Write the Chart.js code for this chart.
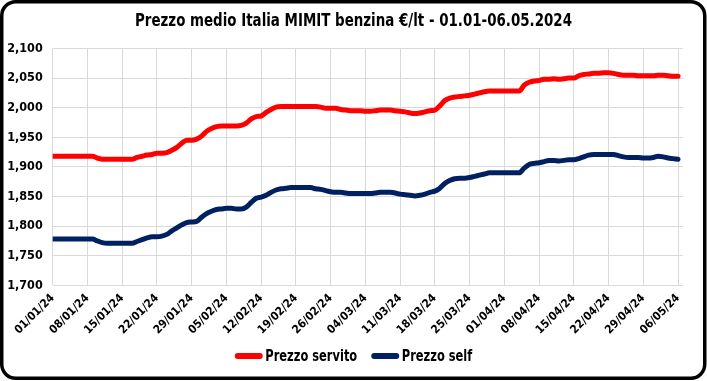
<!DOCTYPE html>
<html>
<head>
<meta charset="utf-8">
<script src="https://cdn.jsdelivr.net/npm/chart.js@4"></script>
<style>
html,body{margin:0;padding:0;background:#fff;}
#wrap{width:707px;height:381px;position:relative;}
</style>
</head>
<body>
<div id="wrap"><canvas id="c" width="707" height="381"></canvas></div>
<script>
const chartTitle = "Prezzo medio Italia MIMIT benzina €/lt - 01.01-06.05.2024";
const seriesNames = ["Prezzo servito", "Prezzo self"];
// weekly tick labels (one every 7 days, from 01/01/24)
const tickLabels = ["01/01/24","08/01/24","15/01/24","22/01/24","29/01/24","05/02/24","12/02/24","19/02/24","26/02/24","04/03/24","11/03/24","18/03/24","25/03/24","01/04/24","08/04/24","15/04/24","22/04/24","29/04/24","06/05/24"];
// daily values, 01/01/24 .. 06/05/24
const prezzoServito = [
1.918,1.918,1.918,1.918,1.918,1.918,1.918,1.918,1.918,1.915,
1.913,1.913,1.913,1.913,1.913,1.913,1.913,1.916,1.918,1.920,
1.921,1.923,1.923,1.924,1.928,1.933,1.940,1.945,1.945,1.947,
1.952,1.960,1.965,1.968,1.969,1.969,1.969,1.969,1.970,1.974,
1.981,1.985,1.986,1.992,1.997,2.001,2.002,2.002,2.002,2.002,
2.002,2.002,2.002,2.002,2.001,1.999,1.999,1.999,1.997,1.996,
1.995,1.995,1.995,1.994,1.994,1.995,1.996,1.996,1.996,1.995,
1.994,1.993,1.991,1.990,1.991,1.993,1.995,1.996,2.003,2.012,
2.016,2.018,2.019,2.020,2.021,2.023,2.025,2.027,2.028,2.028,
2.028,2.028,2.028,2.028,2.028,2.038,2.043,2.045,2.046,2.048,
2.048,2.049,2.048,2.049,2.050,2.050,2.054,2.056,2.057,2.058,
2.058,2.059,2.059,2.058,2.056,2.055,2.055,2.055,2.054,2.054,
2.054,2.054,2.055,2.055,2.054,2.053,2.053
];
const prezzoSelf = [
1.778,1.778,1.778,1.778,1.778,1.778,1.778,1.778,1.778,1.775,
1.772,1.771,1.771,1.771,1.771,1.771,1.771,1.774,1.777,1.780,
1.782,1.782,1.783,1.786,1.792,1.797,1.802,1.806,1.807,1.808,
1.815,1.821,1.825,1.828,1.829,1.830,1.830,1.829,1.829,1.832,
1.840,1.847,1.849,1.852,1.857,1.861,1.863,1.864,1.865,1.865,
1.865,1.865,1.865,1.863,1.862,1.860,1.858,1.857,1.857,1.856,
1.855,1.855,1.855,1.855,1.855,1.856,1.857,1.857,1.857,1.856,
1.854,1.853,1.852,1.851,1.852,1.854,1.857,1.859,1.864,1.872,
1.877,1.880,1.881,1.881,1.882,1.884,1.886,1.888,1.890,1.890,
1.890,1.890,1.890,1.890,1.890,1.898,1.904,1.906,1.907,1.909,
1.911,1.911,1.910,1.911,1.912,1.912,1.914,1.917,1.920,1.921,
1.921,1.921,1.921,1.921,1.919,1.917,1.916,1.916,1.916,1.915,
1.915,1.916,1.918,1.917,1.915,1.914,1.913
];
const seriesColors = ["#ff0000", "#002060"];

const NARROW = "'DejaVu Sans Condensed','DejaVu Sans',sans-serif";

function condensedText(ctx, text, x, y, targetScale) {
  ctx.save();
  ctx.translate(x, y);
  ctx.scale(targetScale, 1);
  ctx.fillText(text, 0, 0);
  ctx.restore();
}

const decor = {
  id: 'decor',
  afterDraw(chart) {
    const ctx = chart.ctx;
    ctx.save();
    // outer rounded border
    ctx.strokeStyle = '#000';
    ctx.lineWidth = 3.5;
    ctx.beginPath();
    ctx.roundRect(1.75, 1.75, 703, 376.5, 14);
    ctx.stroke();
    // title (condensed to the reference width)
    ctx.fillStyle = '#000';
    ctx.font = "bold 18px " + NARROW;
    ctx.textAlign = 'center';
    ctx.textBaseline = 'middle';
    const tw = ctx.measureText(chartTitle).width;
    condensedText(ctx, chartTitle, 353.5, 21, 437 / tw);
    // legend
    ctx.font = "bold 15.5px " + NARROW;
    ctx.textAlign = 'left';
    const sx = 92 / ctx.measureText(chartTitle ? seriesNames[0] : '').width;
    const mk = 28, gap = 2.5, sp = 14;
    const widths = chart.data.datasets.map(d => ctx.measureText(d.label).width * sx);
    let total = 0;
    widths.forEach((w, i) => { total += mk + gap + w + (i ? sp : 0); });
    let x = 353.5 - total / 2;
    const y = 356;
    chart.data.datasets.forEach((d, i) => {
      ctx.strokeStyle = d.borderColor;
      ctx.lineWidth = 6;
      ctx.lineCap = 'round';
      ctx.beginPath();
      ctx.moveTo(x + 3, y);
      ctx.lineTo(x + mk - 3, y);
      ctx.stroke();
      ctx.fillStyle = '#000';
      condensedText(ctx, d.label, x + mk + gap, y + 1, sx);
      x += mk + gap + widths[i] + sp;
    });
    ctx.restore();
  }
};

new Chart(document.getElementById('c'), {
  type: 'line',
  data: {
    datasets: [
      { label: seriesNames[0], data: prezzoServito.map((v, i) => ({x: i, y: v})), borderColor: seriesColors[0], backgroundColor: seriesColors[0] },
      { label: seriesNames[1], data: prezzoSelf.map((v, i) => ({x: i, y: v})), borderColor: seriesColors[1], backgroundColor: seriesColors[1] }
    ]
  },
  options: {
    responsive: false,
    animation: false,
    devicePixelRatio: 1,
    layout: { padding: { left: 0, right: 24, top: 48.5, bottom: 0 } },
    elements: {
      point: { radius: 0, hoverRadius: 0 },
      line: { borderWidth: 5, tension: 0.4, cubicInterpolationMode: 'monotone', borderCapStyle: 'round', borderJoinStyle: 'round' }
    },
    plugins: { legend: { display: false }, title: { display: false }, tooltip: { enabled: false } },
    scales: {
      x: {
        type: 'linear', min: 0, max: 127,
        afterBuildTicks(scale) { scale.ticks = scale.ticks.filter(t => t.value % 7 === 0); },
        afterFit(scale) { scale.height = 95.7; },
        grid: { color: '#d9d9d9', lineWidth: 1, drawTicks: false },
        border: { display: false },
        ticks: {
          stepSize: 7, includeBounds: false, autoSkip: false, minRotation: 45, maxRotation: 45, padding: 6,
          color: '#000', font: { family: NARROW, size: 11.5, weight: 'bold' },
          callback: (v) => tickLabels[v / 7]
        }
      },
      y: {
        min: 1.7, max: 2.1,
        afterFit(scale) { scale.width = 52.7; },
        grid: { color: '#d9d9d9', lineWidth: 1, drawTicks: false },
        border: { display: false },
        ticks: {
          stepSize: 0.05, padding: 10, color: '#000',
          font: { family: NARROW, size: 12.5, weight: 'bold' },
          callback: (v) => (Math.round(v * 1000) / 1000).toFixed(3).replace('.', ',')
        }
      }
    }
  },
  plugins: [decor]
});
</script>
</body>
</html>
